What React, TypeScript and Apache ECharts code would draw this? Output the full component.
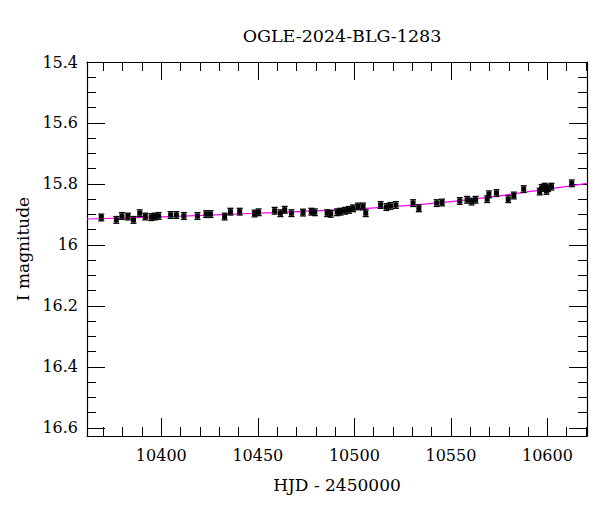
import React, { useEffect, useRef } from "react";
import * as echarts from "echarts";

const TITLE = "OGLE-2024-BLG-1283";
const X_NAME = "HJD - 2450000";
const Y_NAME = "I magnitude";

const X_MIN = 10361.5;
const X_MAX = 10620.5;
const Y_MIN = 15.4;
const Y_MAX = 16.627;

// Observations
const hjd = [
  10368.9, 10376.7, 10379.6, 10382.7, 10385.6, 10388.8, 10391.7, 10394.8, 10396.5, 10398.6,
  10404.8, 10407.8, 10411.7, 10418.7, 10423.2, 10425.5, 10432.8, 10435.8, 10440.6, 10448.3,
  10450.4, 10458.7, 10461.7, 10463.9, 10467.4, 10473.4, 10477.7, 10479.5, 10485.9, 10487.8,
  10491.1, 10492.8, 10495.1, 10497.2, 10499.3, 10501.9, 10504.5, 10505.9, 10513.6, 10516.6,
  10518.7, 10521.5, 10530.4, 10533.4, 10542.6, 10545.4, 10554.6, 10558.4, 10560.7, 10562.8,
  10568.8, 10569.7, 10573.6, 10579.7, 10582.6, 10587.7, 10596.0, 10597.0, 10598.6, 10600.3,
  10602.1, 10599.5, 10612.6,
];
const mag = [
  15.910, 15.918, 15.905, 15.907, 15.918, 15.896, 15.907, 15.909, 15.907, 15.905,
  15.902, 15.902, 15.905, 15.905, 15.899, 15.899, 15.907, 15.891, 15.891, 15.897,
  15.893, 15.888, 15.896, 15.885, 15.896, 15.894, 15.891, 15.893, 15.896, 15.898,
  15.893, 15.891, 15.888, 15.885, 15.880, 15.874, 15.874, 15.896, 15.869, 15.876,
  15.872, 15.869, 15.863, 15.880, 15.863, 15.861, 15.856, 15.852, 15.858, 15.852,
  15.850, 15.834, 15.830, 15.850, 15.838, 15.817, 15.825, 15.813, 15.809, 15.814,
  15.809, 15.823, 15.798,
];
const MAG_ERR = 0.011;

// Model curve
const modelHjd = [10361.5, 10400, 10450, 10500, 10550, 10600, 10620.5];
const modelMag = [15.915, 15.908, 15.896, 15.882, 15.858, 15.817, 15.798];

const FONT = "DejaVu Serif";

export default function App() {
  const ref = useRef<HTMLDivElement>(null);
  useEffect(() => {
    if (!ref.current) return;
    const chart = echarts.init(ref.current, null, { renderer: "svg" });
    const obs = hjd.map((t, i) => [t, mag[i], MAG_ERR]);
    const model = modelHjd.map((t, i) => [t, modelMag[i]]);

    const axisLine = { show: true, onZero: false, lineStyle: { color: "#000", width: 1.2 } };
    const tick = { show: true, inside: true, length: 18, lineStyle: { color: "#000", width: 1 } };
    const xMinor = { show: true, splitNumber: 5, length: 9, lineStyle: { color: "#000", width: 1 } };
    const yMinor = { show: true, splitNumber: 4, length: 9, lineStyle: { color: "#000", width: 1 } };

    const xBase = {
      type: "value",
      min: X_MIN,
      max: X_MAX,
      splitNumber: 5,
      splitLine: { show: false },
      axisLine,
      axisTick: tick,
      minorTick: xMinor,
    };
    const yBase = {
      type: "value",
      min: Y_MIN,
      max: Y_MAX,
      inverse: true,
      splitNumber: 5,
      splitLine: { show: false },
      axisLine,
      axisTick: tick,
      minorTick: yMinor,
    };

    chart.setOption({
      animation: false,
      backgroundColor: "#fff",
      title: {
        text: TITLE,
        left: 337,
        textAlign: "center",
        top: 22,
        textStyle: { fontFamily: FONT, fontSize: 17.5, fontWeight: "normal", color: "#000" },
      },
      grid: { left: 87, right: 13, top: 62, bottom: 76, containLabel: false },
      xAxis: [
        {
          ...xBase,
          position: "bottom",
          name: X_NAME,
          nameLocation: "middle",
          nameGap: 40,
          nameTextStyle: { fontFamily: FONT, fontSize: 17, color: "#000" },
          axisLabel: {
            show: true,
            margin: 11,
            showMinLabel: false,
            showMaxLabel: false,
            fontFamily: FONT,
            fontSize: 16,
            color: "#000",
            formatter: (v: number) => String(Math.round(v)),
          },
        },
        { ...xBase, position: "top", axisLabel: { show: false } },
      ],
      yAxis: [
        {
          ...yBase,
          position: "left",
          name: Y_NAME,
          nameLocation: "middle",
          nameRotate: 90,
          nameGap: 56,
          nameTextStyle: { fontFamily: FONT, fontSize: 17, color: "#000" },
          axisLabel: {
            show: true,
            margin: 9,
            showMinLabel: true,
            showMaxLabel: false,
            fontFamily: FONT,
            fontSize: 16,
            color: "#000",
            formatter: (v: number) => String(Math.round(v * 10) / 10),
          },
        },
        { ...yBase, position: "right", axisLabel: { show: false } },
      ],
      series: [
        {
          type: "line",
          data: model,
          smooth: true,
          symbol: "none",
          xAxisIndex: 0,
          yAxisIndex: 0,
          lineStyle: { color: "#ff00ff", width: 1.2 },
          z: 2,
        },
        {
          type: "custom",
          xAxisIndex: 0,
          yAxisIndex: 0,
          data: obs,
          z: 3,
          renderItem: (params: any, api: any) => {
            const x = api.value(0);
            const y = api.value(1);
            const e = api.value(2);
            const p = api.coord([x, y]);
            const t = api.coord([x, y - e]);
            const b = api.coord([x, y + e]);
            const cap = 3;
            const sq = 2.5;
            const st = { stroke: "#000", lineWidth: 1.3 };
            return {
              type: "group",
              children: [
                { type: "line", shape: { x1: p[0], y1: t[1], x2: p[0], y2: b[1] }, style: st },
                { type: "line", shape: { x1: p[0] - cap, y1: t[1], x2: p[0] + cap, y2: t[1] }, style: st },
                { type: "line", shape: { x1: p[0] - cap, y1: b[1], x2: p[0] + cap, y2: b[1] }, style: st },
                {
                  type: "rect",
                  shape: { x: p[0] - sq, y: p[1] - sq, width: 2 * sq, height: 2 * sq },
                  style: { fill: "#000" },
                },
              ],
            };
          },
        },
      ],
    });
    return () => chart.dispose();
  }, []);
  return (
    <div
      ref={ref}
      style={{ position: "fixed", left: 0, top: 0, width: 600, height: 512, background: "#fff" }}
    />
  );
}
